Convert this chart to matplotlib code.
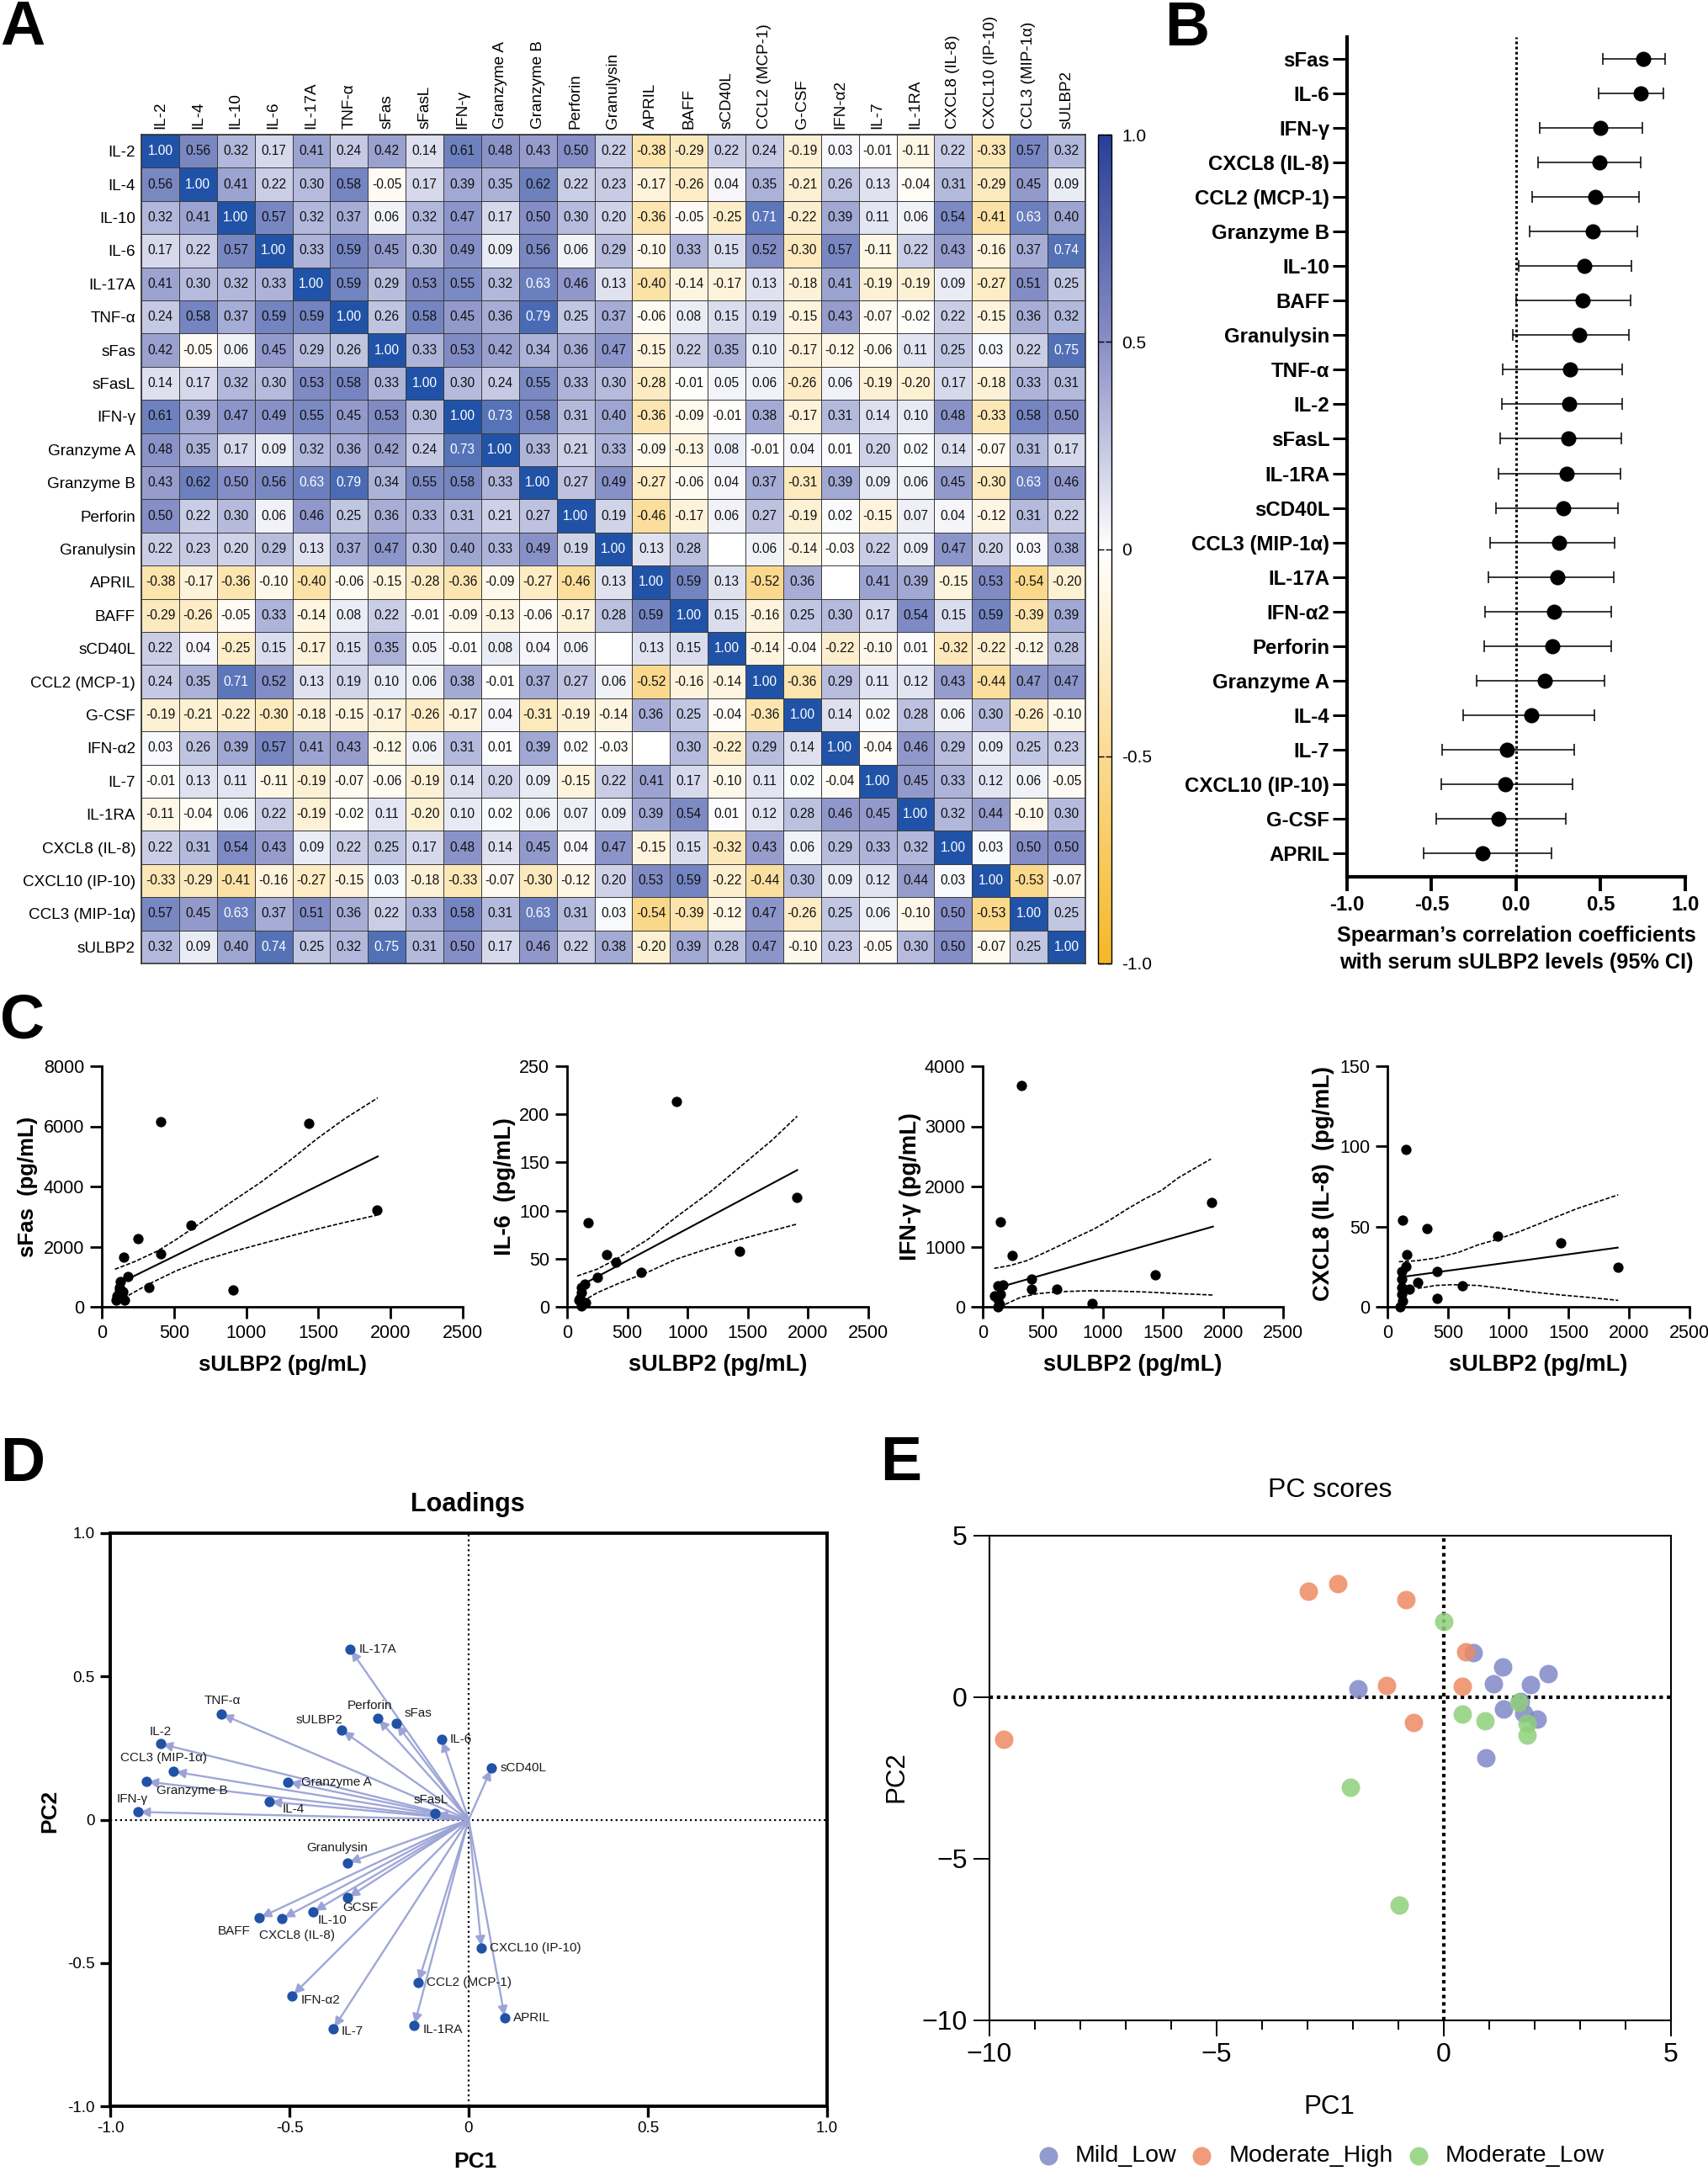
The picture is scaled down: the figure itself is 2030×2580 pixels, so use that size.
import numpy as np
import matplotlib
matplotlib.use("Agg")
import matplotlib.pyplot as plt
from matplotlib.cm import ScalarMappable
from matplotlib.colors import LinearSegmentedColormap, Normalize

plt.rcParams["font.family"] = ["Liberation Sans", "DejaVu Sans"]

W, H = 2031, 2580

# ---- panel A data ----
heat_labels = ["IL-2", "IL-4", "IL-10", "IL-6", "IL-17A", "TNF-α", "sFas", "sFasL", "IFN-γ",
               "Granzyme A", "Granzyme B", "Perforin", "Granulysin", "APRIL", "BAFF", "sCD40L",
               "CCL2 (MCP-1)", "G-CSF", "IFN-α2", "IL-7", "IL-1RA", "CXCL8 (IL-8)",
               "CXCL10 (IP-10)", "CCL3 (MIP-1α)", "sULBP2"]
nan = float("nan")
corr = [
    [1.00, .56, .32, .17, .41, .24, .42, .14, .61, .48, .43, .50, .22, -.38, -.29, .22, .24, -.19, .03, -.01, -.11, .22, -.33, .57, .32],
    [.56, 1.00, .41, .22, .30, .58, -.05, .17, .39, .35, .62, .22, .23, -.17, -.26, .04, .35, -.21, .26, .13, -.04, .31, -.29, .45, .09],
    [.32, .41, 1.00, .57, .32, .37, .06, .32, .47, .17, .50, .30, .20, -.36, -.05, -.25, .71, -.22, .39, .11, .06, .54, -.41, .63, .40],
    [.17, .22, .57, 1.00, .33, .59, .45, .30, .49, .09, .56, .06, .29, -.10, .33, .15, .52, -.30, .57, -.11, .22, .43, -.16, .37, .74],
    [.41, .30, .32, .33, 1.00, .59, .29, .53, .55, .32, .63, .46, .13, -.40, -.14, -.17, .13, -.18, .41, -.19, -.19, .09, -.27, .51, .25],
    [.24, .58, .37, .59, .59, 1.00, .26, .58, .45, .36, .79, .25, .37, -.06, .08, .15, .19, -.15, .43, -.07, -.02, .22, -.15, .36, .32],
    [.42, -.05, .06, .45, .29, .26, 1.00, .33, .53, .42, .34, .36, .47, -.15, .22, .35, .10, -.17, -.12, -.06, .11, .25, .03, .22, .75],
    [.14, .17, .32, .30, .53, .58, .33, 1.00, .30, .24, .55, .33, .30, -.28, -.01, .05, .06, -.26, .06, -.19, -.20, .17, -.18, .33, .31],
    [.61, .39, .47, .49, .55, .45, .53, .30, 1.00, .73, .58, .31, .40, -.36, -.09, -.01, .38, -.17, .31, .14, .10, .48, -.33, .58, .50],
    [.48, .35, .17, .09, .32, .36, .42, .24, .73, 1.00, .33, .21, .33, -.09, -.13, .08, -.01, .04, .01, .20, .02, .14, -.07, .31, .17],
    [.43, .62, .50, .56, .63, .79, .34, .55, .58, .33, 1.00, .27, .49, -.27, -.06, .04, .37, -.31, .39, .09, .06, .45, -.30, .63, .46],
    [.50, .22, .30, .06, .46, .25, .36, .33, .31, .21, .27, 1.00, .19, -.46, -.17, .06, .27, -.19, .02, -.15, .07, .04, -.12, .31, .22],
    [.22, .23, .20, .29, .13, .37, .47, .30, .40, .33, .49, .19, 1.00, .13, .28, nan, .06, -.14, -.03, .22, .09, .47, .20, .03, .38],
    [-.38, -.17, -.36, -.10, -.40, -.06, -.15, -.28, -.36, -.09, -.27, -.46, .13, 1.00, .59, .13, -.52, .36, nan, .41, .39, -.15, .53, -.54, -.20],
    [-.29, -.26, -.05, .33, -.14, .08, .22, -.01, -.09, -.13, -.06, -.17, .28, .59, 1.00, .15, -.16, .25, .30, .17, .54, .15, .59, -.39, .39],
    [.22, .04, -.25, .15, -.17, .15, .35, .05, -.01, .08, .04, .06, nan, .13, .15, 1.00, -.14, -.04, -.22, -.10, .01, -.32, -.22, -.12, .28],
    [.24, .35, .71, .52, .13, .19, .10, .06, .38, -.01, .37, .27, .06, -.52, -.16, -.14, 1.00, -.36, .29, .11, .12, .43, -.44, .47, .47],
    [-.19, -.21, -.22, -.30, -.18, -.15, -.17, -.26, -.17, .04, -.31, -.19, -.14, .36, .25, -.04, -.36, 1.00, .14, .02, .28, .06, .30, -.26, -.10],
    [.03, .26, .39, .57, .41, .43, -.12, .06, .31, .01, .39, .02, -.03, nan, .30, -.22, .29, .14, 1.00, -.04, .46, .29, .09, .25, .23],
    [-.01, .13, .11, -.11, -.19, -.07, -.06, -.19, .14, .20, .09, -.15, .22, .41, .17, -.10, .11, .02, -.04, 1.00, .45, .33, .12, .06, -.05],
    [-.11, -.04, .06, .22, -.19, -.02, .11, -.20, .10, .02, .06, .07, .09, .39, .54, .01, .12, .28, .46, .45, 1.00, .32, .44, -.10, .30],
    [.22, .31, .54, .43, .09, .22, .25, .17, .48, .14, .45, .04, .47, -.15, .15, -.32, .43, .06, .29, .33, .32, 1.00, .03, .50, .50],
    [-.33, -.29, -.41, -.16, -.27, -.15, .03, -.18, -.33, -.07, -.30, -.12, .20, .53, .59, -.22, -.44, .30, .09, .12, .44, .03, 1.00, -.53, -.07],
    [.57, .45, .63, .37, .51, .36, .22, .33, .58, .31, .63, .31, .03, -.54, -.39, -.12, .47, -.26, .25, .06, -.10, .50, -.53, 1.00, .25],
    [.32, .09, .40, .74, .25, .32, .75, .31, .50, .17, .46, .22, .38, -.20, .39, .28, .47, -.10, .23, -.05, .30, .50, -.07, .25, 1.00],
]

# ---- panel B data ----
forest_labels = ["sFas", "IL-6", "IFN-γ", "CXCL8 (IL-8)", "CCL2 (MCP-1)", "Granzyme B", "IL-10", "BAFF",
                 "Granulysin", "TNF-α", "IL-2", "sFasL", "IL-1RA", "sCD40L", "CCL3 (MIP-1α)", "IL-17A",
                 "IFN-α2", "Perforin", "Granzyme A", "IL-4", "IL-7", "CXCL10 (IP-10)", "G-CSF", "APRIL"]
forest_r = [.75, .735, .50, .493, .467, .454, .402, .391, .374, .318, .313, .309, .30, .281, .253, .244,
            .223, .216, .171, .089, -.054, -.065, -.104, -.199]
forest_lo = [.512, .486, .138, .13, .097, .078, .015, 0, -.02, -.08, -.086, -.093, -.102, -.121, -.154, -.162,
             -.182, -.188, -.234, -.314, -.437, -.445, -.474, -.545]
forest_hi = [.88, .871, .744, .737, .724, .716, .683, .675, .666, .629, .625, .623, .616, .603, .582, .577,
             .564, .56, .523, .463, .342, .331, .296, .208]

# ---- panel C data ----
sfas_x = [410, 1434, 1907, 618, 251, 410, 153, 181, 328, 911, 129, 125, 120, 145, 100, 156, 105, 137]
sfas_y = [6150, 6107, 3226, 2723, 2275, 1762, 1660, 998, 653, 550, 837, 650, 558, 510, 232, 214, 372, 418]
sfas_line_x = [120, 1911]
sfas_line_y = [780, 4998]
sfas_up_x = [91, 227, 386, 518, 713, 907, 1101, 1296, 1490, 1684, 1911]
sfas_up_y = [1249, 1501, 1855, 2247, 2881, 3515, 4140, 4839, 5585, 6256, 6946]
sfas_low_x = [185, 325, 518, 713, 907, 1101, 1296, 1490, 1684, 1907]
sfas_low_y = [382, 755, 1203, 1557, 1837, 2089, 2340, 2583, 2807, 3049]

il6_x = [908, 1905, 173, 328, 407, 1433, 248, 613, 150, 117, 117, 100, 122, 155, 108, 131]
il6_y = [213, 114, 87, 54, 46, 57.5, 31, 36, 24, 20, 14.5, 7, 0.5, 4.4, 9, 4.4]
il6_line_x = [108, 1910]
il6_line_y = [21.8, 142]
il6_up_x = [84, 248, 407, 670, 903, 1184, 1433, 1700, 1910]
il6_up_y = [32, 39, 49.4, 70, 93, 119, 145, 173, 198]
il6_low_x = [131, 248, 435, 670, 903, 1184, 1433, 1700, 1910]
il6_low_y = [5.8, 14.5, 24.7, 36, 49.4, 61, 70, 79, 86]

ifng_x = [323, 146, 1903, 248, 403, 403, 615, 1434, 907, 168, 124, 146, 97, 128, 142, 128]
ifng_y = [3679, 1419, 1730, 856, 460, 288, 298, 535, 51, 363, 349, 209, 177, 130, 47, 0]
ifng_line_x = [120, 1916]
ifng_line_y = [315, 1333]
ifng_up_x = [96, 224, 364, 504, 644, 784, 924, 1064, 1204, 1345, 1485, 1625, 1765, 1900]
ifng_up_y = [639, 685, 765, 890, 1021, 1161, 1291, 1450, 1627, 1790, 1930, 2140, 2303, 2457]
ifng_low_x = [189, 317, 457, 644, 878, 1111, 1345, 1578, 1912]
ifng_low_y = [42, 159, 219, 252, 266, 261, 247, 224, 196]

cxcl8_x = [150, 123, 326, 159, 913, 1433, 1905, 410, 251, 617, 410, 181, 150, 115, 115, 115, 115, 123, 101]
cxcl8_y = [98, 54, 48.7, 32.6, 43.8, 40, 24.4, 22, 15, 13, 5.4, 11, 25, 22, 17.5, 12, 8, 3.5, 0]
cxcl8_line_x = [110, 1906]
cxcl8_line_y = [18.5, 36.9]
cxcl8_up_x = [95, 239, 401, 587, 750, 912, 1098, 1330, 1562, 1910]
cxcl8_up_y = [28.1, 28.7, 30.4, 33.9, 38.6, 42.1, 47, 54, 61, 69.8]
cxcl8_low_x = [251, 401, 541, 750, 982, 1214, 1446, 1678, 1910]
cxcl8_low_y = [11.5, 13.3, 13.8, 13.3, 11.2, 9.1, 7.3, 5.8, 4.0]

# ---- panel D data ----
load_names = ["IL-17A", "TNF-α", "Perforin", "sFas", "sULBP2", "IL-6", "IL-2", "sCD40L", "CCL3 (MIP-1α)",
              "Granzyme B", "Granzyme A", "IL-4", "sFasL", "IFN-γ", "Granulysin", "GCSF", "IL-10", "BAFF",
              "CXCL8 (IL-8)", "CXCL10 (IP-10)", "CCL2 (MCP-1)", "IFN-α2", "APRIL", "IL-1RA", "IL-7"]
load_pc1 = [-.331, -.691, -.254, -.203, -.355, -.075, -.860, .064, -.823, -.900, -.505, -.557, -.094, -.923,
            -.338, -.338, -.434, -.584, -.520, .036, -.141, -.492, .101, -.152, -.378]
load_pc2 = [.596, .369, .354, .337, .313, .280, .265, .180, .168, .133, .132, .063, .022, .027,
            -.151, -.273, -.322, -.343, -.345, -.448, -.569, -.614, -.692, -.719, -.730]

# ---- panel E data ----
mild_x = [-1.89, .64, 1.30, 1.09, 2.29, 1.90, 1.68, 1.31, 1.76, 2.06, .93]
mild_y = [.26, 1.39, .93, .41, .74, .40, -.14, -.36, -.50, -.67, -1.87]
high_x = [-9.68, -2.99, -2.33, -.83, .49, .40, -1.25, -.66]
high_y = [-1.31, 3.27, 3.51, 3.03, 1.40, .35, .36, -.78]
low_x = [0, .40, .90, 1.64, 1.84, 1.84, -2.06, -.98]
low_y = [2.34, -.51, -.72, -.15, -.82, -1.16, -2.78, -6.44]

# label offsets for panel D, in pixels from the dot
load_offsets = [(33, 0), (2, 16), (-9, 15), (26, 12), (-26, 12), (23, 0), (0, 14), (38, 0), (-12, 16),
                (55, -11), (58, 0), (29, -9), (-5, 16), (-7, 15), (-12, 18), (15, -12), (23, -10), (-30, -16),
                (18, -20), (64, 0), (61, 0), (34, -5), (32, 0), (34, -5), (23, -3)]

fig = plt.figure(figsize=(W / 100, H / 100), dpi=100)


def ax_px(left, top, right, bottom):
    return fig.add_axes([left / W, 1 - bottom / H, (right - left) / W, (bottom - top) / H])


def txt(x, y, s, **kw):
    kw.setdefault("ha", "center")
    kw.setdefault("va", "center")
    return fig.text(x / W, 1 - y / H, s, **kw)


for letter, x, y in [("A", 0, 53), ("B", 1384, 54), ("C", 0, 1233), ("D", 0, 1760), ("E", 1046, 1759)]:
    txt(x, y, letter, ha="left", va="baseline", fontsize=53, fontweight="bold")

# ---- A: heatmap ----
cmap = LinearSegmentedColormap.from_list(
    "rdb", [(0, "#f6b726"), (.5, "#ffffff"), (.75, "#868fc6"), (1, "#2053a7")])
cmap.set_bad("white")
bar_cmap = LinearSegmentedColormap.from_list(
    "rdb_bar", [(0, "#f6b726"), (.5, "#ffffff"), (.75, "#8a8ec5"), (1, "#283f97")])
ax = ax_px(168, 160, 1290, 1145)
n = len(heat_labels)
mat = np.array(corr)
mesh = ax.pcolormesh(np.arange(n + 1), np.arange(n + 1), mat, cmap=cmap, vmin=-1, vmax=1,
                     edgecolors="#3c3c3c", linewidth=0.7)
ax.set_ylim(n, 0)
ax.set_xlim(0, n)
for i in range(n):
    for j in range(n):
        v = mat[i, j]
        if np.isnan(v):
            continue
        ax.text(j + .5, i + .5, f"{v:.2f}", ha="center", va="center", fontsize=11.2,
                color="white" if v >= .63 else "#111111")
ax.xaxis.tick_top()
ax.set_xticks(np.arange(n) + .5)
ax.set_xticklabels(heat_labels, rotation=90, fontsize=13.6)
ax.set_yticks(np.arange(n) + .5)
ax.set_yticklabels(heat_labels, fontsize=13.6)
ax.tick_params(length=0, pad=5)
for s in ax.spines.values():
    s.set_linewidth(1.2)
    s.set_color("#333333")

cax = ax_px(1305, 160, 1321, 1145)
cb = fig.colorbar(ScalarMappable(Normalize(-1, 1), bar_cmap), cax=cax, ticks=[-1, -.5, 0, .5, 1])
cb.ax.set_yticklabels(["-1.0", "-0.5", "0", "0.5", "1.0"], fontsize=15)
cb.ax.tick_params(direction="in", left=True, right=True, length=5, width=1, pad=9)
cb.outline.set_linewidth(1)

# ---- B: forest plot ----
ax = ax_px(1601, 44, 2003, 1042)
ypos = np.arange(len(forest_labels))
r = np.array(forest_r)
ax.errorbar(r, ypos, xerr=[r - np.array(forest_lo), np.array(forest_hi) - r], fmt="o", color="black",
            ms=12, elinewidth=1.1, capsize=5, capthick=1.1)
ax.axvline(0, color="black", ls=(0, (1, 1)), lw=2.2)
ax.set_xlim(-1, 1)
ax.set_ylim(23.68, -.63)
ax.set_yticks(ypos)
ax.set_yticklabels(forest_labels, fontsize=17.3, fontweight="bold")
ax.set_xticks([-1, -.5, 0, .5, 1])
ax.set_xticklabels(["-1.0", "-0.5", "0.0", "0.5", "1.0"], fontsize=17.3, fontweight="bold")
ax.tick_params(axis="y", length=12, width=2.2, pad=3)
ax.tick_params(axis="x", length=12, width=2.8, pad=4)
for s in ["top", "right"]:
    ax.spines[s].set_visible(False)
for s in ["left", "bottom"]:
    ax.spines[s].set_linewidth(3)
txt(1802, 1112, "Spearman’s correlation coefficients", fontsize=18.2, fontweight="bold")
txt(1802, 1144, "with serum sULBP2 levels (95% CI)", fontsize=18.2, fontweight="bold")

# ---- C: scatter plots ----
scatter_panels = [
    (121, 550, 8000, [0, 2000, 4000, 6000, 8000], "sFas  (pg/mL)", 33, 1410, 18.5, sfas_x, sfas_y,
     sfas_line_x, sfas_line_y, sfas_up_x, sfas_up_y, sfas_low_x, sfas_low_y),
    (674, 1032, 250, [0, 50, 100, 150, 200, 250], "IL-6  (pg/mL)", 600, 1410, 19.6, il6_x, il6_y,
     il6_line_x, il6_line_y, il6_up_x, il6_up_y, il6_low_x, il6_low_y),
    (1168, 1525, 4000, [0, 1000, 2000, 3000, 4000], "IFN-γ (pg/mL)", 1082, 1410, 19.6, ifng_x, ifng_y,
     ifng_line_x, ifng_line_y, ifng_up_x, ifng_up_y, ifng_low_x, ifng_low_y),
    (1649, 2008, 150, [0, 50, 100, 150], "CXCL8 (IL-8)  (pg/mL)", 1573, 1407, 19.6, cxcl8_x, cxcl8_y,
     cxcl8_line_x, cxcl8_line_y, cxcl8_up_x, cxcl8_up_y, cxcl8_low_x, cxcl8_low_y),
]
for left, right, ymax, yt, ylab, lx, ly, lab_fs, xs, ys, lnx, lny, upx, upy, lox, loy in scatter_panels:
    ax = ax_px(left, 1267, right, 1553)
    ax.scatter(xs, ys, s=78, color="black", clip_on=False, zorder=3, linewidths=0)
    ax.plot(lnx, lny, color="black", lw=1.5)
    ax.plot(upx, upy, color="black", lw=1.2, ls=(0, (3, 1.3)))
    ax.plot(lox, loy, color="black", lw=1.2, ls=(0, (3, 1.3)))
    ax.set_xlim(0, 2500)
    ax.set_ylim(0, ymax)
    ax.set_xticks([0, 500, 1000, 1500, 2000, 2500])
    ax.set_yticks(yt)
    ax.tick_params(labelsize=15.5, length=10, width=2, pad=5)
    for s in ["top", "right"]:
        ax.spines[s].set_visible(False)
    for s in ["left", "bottom"]:
        ax.spines[s].set_linewidth(2)
    txt((left + right) / 2, 1622, "sULBP2 (pg/mL)", fontsize=lab_fs, fontweight="bold")
    txt(lx, ly, ylab, fontsize=lab_fs, fontweight="bold", rotation=90)

# ---- D: loadings ----
ax = ax_px(131, 1822, 983, 2503)
ax.axhline(0, color="black", ls=":", lw=1.6, zorder=1)
ax.axvline(0, color="black", ls=":", lw=1.6, zorder=1)
for x, y in zip(load_pc1, load_pc2):
    ax.annotate("", xy=(x, y), xytext=(0, 0), zorder=2,
                arrowprops=dict(arrowstyle="-|>,head_length=0.65,head_width=0.33", color="#9aa2d6", lw=1.7,
                                shrinkA=0, shrinkB=2, alpha=.95))
ax.scatter(load_pc1, load_pc2, s=78, color="#2152a6", zorder=3, linewidths=0)
for name, x, y, off in zip(load_names, load_pc1, load_pc2, load_offsets):
    ax.annotate(name, xy=(x, y), xytext=off, textcoords="offset pixels", ha="center", va="center",
                fontsize=11, color="#1a1a1a", zorder=4)
ax.set_xlim(-1, 1)
ax.set_ylim(-1, 1)
ax.set_xticks([-1, -.5, 0, .5, 1])
ax.set_xticklabels(["-1.0", "-0.5", "0", "0.5", "1.0"])
ax.set_yticks([-1, -.5, 0, .5, 1])
ax.set_yticklabels(["-1.0", "-0.5", "0", "0.5", "1.0"])
ax.tick_params(labelsize=13.5, length=9, width=2.4, pad=4)
for s in ax.spines.values():
    s.set_linewidth(2.8)
txt(556, 1788, "Loadings", fontsize=22, fontweight="bold")
txt(565, 2569, "PC1", fontsize=19, fontweight="bold")
txt(59, 2152, "PC2", fontsize=19, fontweight="bold", rotation=90)

# ---- E: PC scores ----
ax = ax_px(1176, 1825, 1986, 2401)
ax.axhline(0, color="black", ls=(0, (1, 1.1)), lw=3, zorder=1)
ax.axvline(0, color="black", ls=(0, (1, 1.1)), lw=3, zorder=1)
ax.scatter(mild_x, mild_y, s=250, color="#7f88c8", alpha=.85, linewidths=0, zorder=3, label="Mild_Low")
ax.scatter(high_x, high_y, s=250, color="#ee8a62", alpha=.85, linewidths=0, zorder=3, label="Moderate_High")
ax.scatter(low_x, low_y, s=250, color="#90d07c", alpha=.85, linewidths=0, zorder=3, label="Moderate_Low")
ax.set_xlim(-10, 5)
ax.set_ylim(-10, 5)
ax.set_xticks([-10, -5, 0, 5])
ax.set_yticks([-10, -5, 0, 5])
ax.set_xticks(np.arange(-10, 6), minor=True)
ax.tick_params(labelsize=23, length=14, width=1.4, pad=5)
ax.tick_params(axis="x", which="minor", length=8, width=1.4)
for s in ax.spines.values():
    s.set_linewidth(1.5)
txt(1581, 1771, "PC scores", fontsize=23)
txt(1580, 2504, "PC1", fontsize=22.5)
txt(1065, 2112, "PC2", fontsize=22.5, rotation=90)
ax.legend(loc="center", bbox_to_anchor=(1569 / W, 1 - 2562 / H), bbox_transform=fig.transFigure, ncols=3,
          frameon=False, fontsize=20.5, handlelength=1, handletextpad=.62, columnspacing=.56, borderpad=0)

fig.savefig("out.png", dpi=100)
